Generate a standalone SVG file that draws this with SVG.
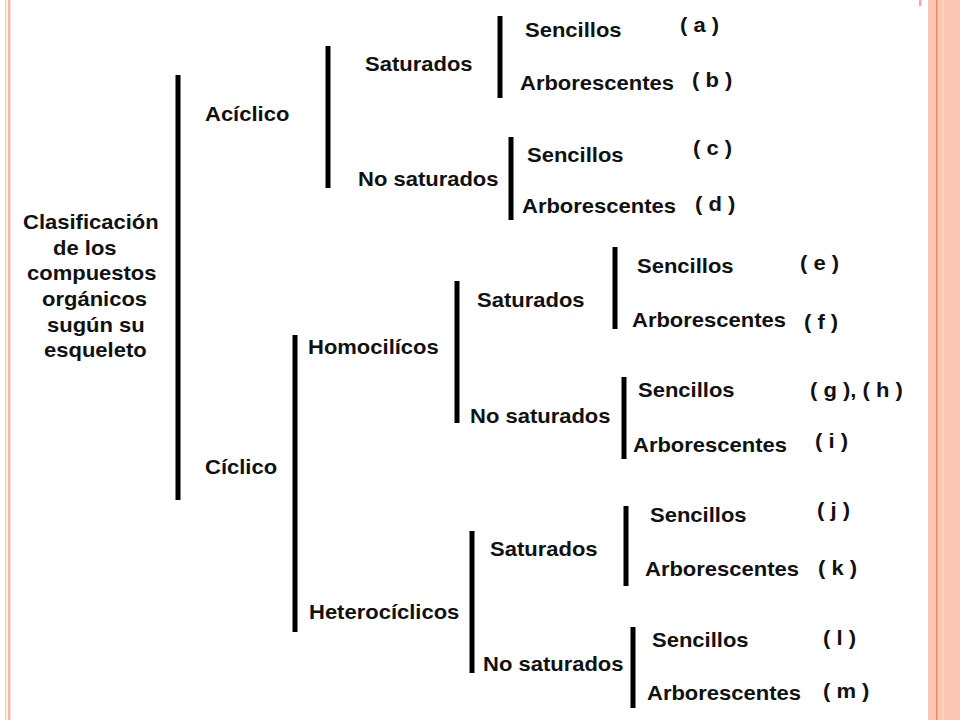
<svg xmlns="http://www.w3.org/2000/svg" width="960" height="720" viewBox="0 0 960 720">
<style>
  .t { font-family: "Liberation Sans", Arial, sans-serif; font-weight: bold; font-size: 20px; fill: #111; }
  .bar { stroke: #000; stroke-width: 5; fill: none; }
</style>
<rect width="960" height="720" fill="#fff"/>
<g id="border">
  <rect x="5" y="0" width="1.5" height="720" fill="#fbd0c2"/>
  <rect x="8" y="0" width="2.5" height="720" fill="#f7b9a6"/>
  <rect x="928" y="0" width="32" height="720" fill="#fcc8b5"/>
  <rect x="936" y="0" width="1.5" height="720" fill="#ee8a55"/>
  <rect x="942" y="0" width="2" height="720" fill="#fdd3c2"/>
  <rect x="919" y="0" width="2.5" height="6" fill="#f4a8a8"/>
</g>
<g id="connectors">
  <line class="bar" x1="178" y1="75" x2="178" y2="500"/>
  <line class="bar" x1="328" y1="46" x2="328" y2="188"/>
  <line class="bar" x1="500" y1="16" x2="500" y2="98"/>
  <line class="bar" x1="511" y1="137" x2="511" y2="220"/>
  <line class="bar" x1="295" y1="335" x2="295" y2="632"/>
  <line class="bar" x1="457" y1="281" x2="457" y2="423"/>
  <line class="bar" x1="615" y1="247" x2="615" y2="329"/>
  <line class="bar" x1="624" y1="377" x2="624" y2="459"/>
  <line class="bar" x1="472" y1="531" x2="472" y2="673"/>
  <line class="bar" x1="626" y1="506" x2="626" y2="586"/>
  <line class="bar" x1="633" y1="627" x2="633" y2="708"/>
</g>
<g id="root">
  <text class="t" transform="translate(23,229) scale(1.1,1)">Clasificación</text>
  <text class="t" transform="translate(53,255) scale(1.1,1)">de los</text>
  <text class="t" transform="translate(27,280) scale(1.1,1)">compuestos</text>
  <text class="t" transform="translate(42,306) scale(1.1,1)">orgánicos</text>
  <text class="t" transform="translate(47,332) scale(1.1,1)">sugún su</text>
  <text class="t" transform="translate(44,357) scale(1.1,1)">esqueleto</text>
</g>
<g id="aciclico"><text class="t" transform="translate(205,121) scale(1.1,1)">Acíclico</text></g>
<g id="ciclico"><text class="t" transform="translate(205,474) scale(1.1,1)">Cíclico</text></g>
<g id="ac-sat"><text class="t" transform="translate(365,71) scale(1.1,1)">Saturados</text></g>
<g id="ac-nosat"><text class="t" transform="translate(358,186) scale(1.1,1)">No saturados</text></g>
<g id="a"><text class="t" transform="translate(525,37) scale(1.1,1)">Sencillos</text><text class="t" transform="translate(680,32) scale(1.1,1)">( a )</text></g>
<g id="b"><text class="t" transform="translate(520,90) scale(1.1,1)">Arborescentes</text><text class="t" transform="translate(692,87) scale(1.1,1)">( b )</text></g>
<g id="c"><text class="t" transform="translate(527,162) scale(1.1,1)">Sencillos</text><text class="t" transform="translate(693,155) scale(1.1,1)">( c )</text></g>
<g id="d"><text class="t" transform="translate(522,213) scale(1.1,1)">Arborescentes</text><text class="t" transform="translate(695,211) scale(1.1,1)">( d )</text></g>
<g id="homo"><text class="t" transform="translate(308,354) scale(1.1,1)">Homocilícos</text></g>
<g id="hetero"><text class="t" transform="translate(309,619) scale(1.1,1)">Heterocíclicos</text></g>
<g id="ho-sat"><text class="t" transform="translate(477,307) scale(1.1,1)">Saturados</text></g>
<g id="ho-nosat"><text class="t" transform="translate(470,423) scale(1.1,1)">No saturados</text></g>
<g id="e"><text class="t" transform="translate(637,273) scale(1.1,1)">Sencillos</text><text class="t" transform="translate(800,270) scale(1.1,1)">( e )</text></g>
<g id="f"><text class="t" transform="translate(632,327) scale(1.1,1)">Arborescentes</text><text class="t" transform="translate(804,329) scale(1.1,1)">( f )</text></g>
<g id="gh"><text class="t" transform="translate(638,397) scale(1.1,1)">Sencillos</text><text class="t" transform="translate(810,397) scale(1.1,1)">( g ), ( h )</text></g>
<g id="i"><text class="t" transform="translate(633,452) scale(1.1,1)">Arborescentes</text><text class="t" transform="translate(815,448) scale(1.1,1)">( i )</text></g>
<g id="he-sat"><text class="t" transform="translate(490,556) scale(1.1,1)">Saturados</text></g>
<g id="he-nosat"><text class="t" transform="translate(483,671) scale(1.1,1)">No saturados</text></g>
<g id="j"><text class="t" transform="translate(650,522) scale(1.1,1)">Sencillos</text><text class="t" transform="translate(817,517) scale(1.1,1)">( j )</text></g>
<g id="k"><text class="t" transform="translate(645,576) scale(1.1,1)">Arborescentes</text><text class="t" transform="translate(818,575) scale(1.1,1)">( k )</text></g>
<g id="l"><text class="t" transform="translate(652,647) scale(1.1,1)">Sencillos</text><text class="t" transform="translate(823,645) scale(1.1,1)">( l )</text></g>
<g id="m"><text class="t" transform="translate(647,700) scale(1.1,1)">Arborescentes</text><text class="t" transform="translate(823,698) scale(1.1,1)">( m )</text></g>
</svg>
